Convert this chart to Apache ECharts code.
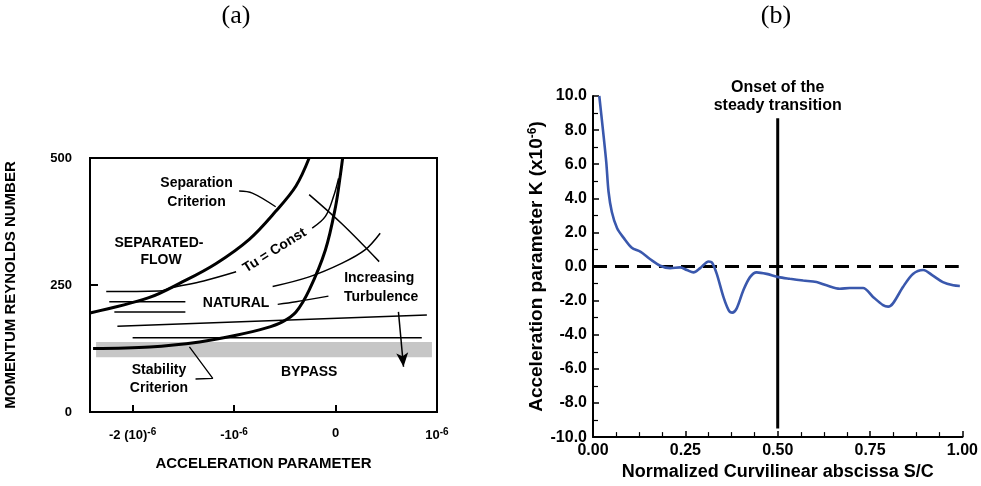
<!DOCTYPE html>
<html><head><meta charset="utf-8">
<script src="https://cdn.jsdelivr.net/npm/echarts@6/dist/echarts.min.js"></script>
<style>html,body{margin:0;background:#fff}#c{width:981px;height:486px}</style>
</head><body><div id="c"></div>
<script>
// ---------- Panel (a): transition regimes (x in units of 1e-6) ----------
const aSeparation = [[-2.42,195],[-1.84,225],[-1.51,256],[-1.18,292],[-0.85,340],[-0.59,395],[-0.39,445],[-0.26,500]];
const aStability = [[-2.39,125],[-1.83,128],[-1.34,138],[-0.98,151],[-0.69,165],[-0.52,178],[-0.39,197],[-0.26,240],[-0.10,319],[0.0,404],[0.05,470],[0.07,500]];
const aTuConstLow = [[-2.26,237],[-1.74,238],[-1.61,245],[-1.30,258],[-0.98,276]];
const aTuConstHigh = [[-0.23,362],[-0.10,385],[-0.02,424],[0.03,460]];
const aTuContour2 = [[-0.62,247],[-0.26,266],[0.065,293],[0.29,319],[0.44,352]];
const aTurbDir = [[-0.26,428],[0.065,370],[0.43,296]];
const aSepLeader = [[-0.95,435],[-0.82,431],[-0.59,404]];
const aNatLeader = [[-0.57,212],[-0.39,217],[-0.07,228]];
const aStabLeader = [[-1.44,128],[-1.21,66],[-1.38,65]];
const aHLines = [
  [[-2.23,217],[-1.48,217]],
  [[-2.18,197],[-1.48,197]],
  [[-2.15,169],[0.90,191]],
  [[-2.00,146],[0.85,146]]
];
const aBand = [[-2.36,108],[0.95,138]];
const aArrow = [[0.62,197],[0.67,89]];
const aTexts = [
  [-1.37,451,'Separation'],[-1.37,414,'Criterion'],
  [-1.74,333,'SEPARATED-'],[-1.72,299,'FLOW'],
  [-0.98,214,'NATURAL'],
  [0.43,264,'Increasing'],[0.45,226,'Turbulence'],
  [-1.74,82,'Stability'],[-1.74,47,'Criterion'],
  [-0.26,78,'BYPASS']
];
const aTuText = [-0.60,318,'Tu = Const'];
const aXTicks = [-2,-1,0];
const aXLabels = [-2,-1,0,1];

// ---------- Panel (b): acceleration parameter ----------
const bS = [0.017,0.027,0.036,0.042,0.051,0.065,0.083,0.105,0.128,0.155,0.182,0.209,0.236,0.254,0.272,0.29,0.313,0.322,0.335,0.353,0.367,0.377,0.389,0.407,0.425,0.443,0.47,0.502,0.533,0.569,0.605,0.632,0.668,0.695,0.731,0.758,0.785,0.799,0.812,0.839,0.866,0.894,0.92,0.947,0.975,0.993];
const bK = [10.0,8.0,6.1,4.4,3.2,2.26,1.68,1.1,0.87,0.43,0.05,-0.09,-0.05,-0.2,-0.34,-0.09,0.3,0.24,-0.43,-1.78,-2.55,-2.7,-2.45,-1.39,-0.62,-0.34,-0.43,-0.62,-0.72,-0.82,-0.91,-1.1,-1.3,-1.26,-1.26,-1.78,-2.26,-2.35,-2.16,-1.2,-0.43,-0.2,-0.53,-0.91,-1.1,-1.14];
const bZeroLine = [[0,0],[0.99,0]];
const bOnset = [[0.5,-9.5],[0.5,8.7]];
const bOnsetText = 'Onset of the\nsteady transition';

const F = '"Liberation Sans", Arial, sans-serif';
const chart = echarts.init(document.getElementById('c'));

function thin(data, w, extra) {
  return Object.assign({type:'line', xAxisIndex:0, yAxisIndex:0, data, symbol:'none',
    smooth:0.35, lineStyle:{color:'#000', width:w}, silent:true, z:3}, extra||{});
}

const series = [
  {type:'line', xAxisIndex:0, yAxisIndex:0, data:[], symbol:'none', silent:true, z:1,
   markArea:{silent:true, itemStyle:{color:'#c6c6c6'},
     data:[[{coord:aBand[0]},{coord:aBand[1]}]]}},
  thin(aSeparation, 3),
  thin(aStability, 3),
  thin(aTuConstLow, 1.5),
  thin(aTuConstHigh, 1.5),
  thin(aTuContour2, 1.5),
  thin(aTurbDir, 1.5),
  thin(aSepLeader, 1.3),
  thin(aNatLeader, 1.3),
  thin(aStabLeader, 1.3, {smooth:false}),
];
aHLines.forEach(l => series.push(thin(l, 1.5, {smooth:false})));
series.push({type:'line', xAxisIndex:0, yAxisIndex:0, data:[], symbol:'none', silent:true,
  markLine:{silent:true, symbol:['none','arrow'], symbolSize:[9,14],
    lineStyle:{color:'#000', width:1.5, type:'solid'}, label:{show:false},
    data:[[{coord:aArrow[0]},{coord:aArrow[1]}]]}});
const txtLabel = {show:true, position:'inside', color:'#000', opacity:1, fontFamily:F, fontWeight:'bold', fontSize:14};
series.push({type:'scatter', xAxisIndex:0, yAxisIndex:0, symbolSize:0, silent:true, z:5,
  itemStyle:{opacity:1},
  data: aTexts.map(t => ({value:[t[0],t[1]], label:{formatter:t[2]}})),
  label:txtLabel});
series.push({type:'scatter', xAxisIndex:0, yAxisIndex:0, symbolSize:0, silent:true, z:5,
  itemStyle:{opacity:1},
  data:[{value:[aTuText[0],aTuText[1]], label:{formatter:aTuText[2]}}],
  label:Object.assign({}, txtLabel, {rotate:32})});

// panel (b)
series.push({type:'line', xAxisIndex:1, yAxisIndex:1, data:bZeroLine, symbol:'none', silent:true,
  lineStyle:{color:'#000', width:3, type:[14,8]}, z:2});
series.push({type:'line', xAxisIndex:1, yAxisIndex:1, data:bOnset, symbol:'none', silent:true,
  lineStyle:{color:'#000', width:3}, z:2});
series.push({type:'line', xAxisIndex:1, yAxisIndex:1, data:bS.map((s,i)=>[s,bK[i]]), symbol:'none',
  smooth:0.3, silent:true, lineStyle:{color:'#3a58ad', width:2.6}, z:4});
series.push({type:'scatter', xAxisIndex:1, yAxisIndex:1, symbolSize:0, silent:true,
  itemStyle:{opacity:1},
  data:[{value:bOnset[1], label:{formatter:bOnsetText}}],
  label:{show:true, position:'top', distance:4, color:'#000', opacity:1, fontFamily:F, fontWeight:'bold', fontSize:16, lineHeight:18, align:'center'}});

const aLab = v => {
  const r = Math.round(v);
  if (r === -2) return '{n|-2 (10)}{s|-6}';
  if (r === -1) return '{n|-10}{s|-6}';
  if (r === 0) return '{n|0}';
  return '{n|10}{s|-6}';
};

chart.setOption({
  animation:false,
  backgroundColor:'#fff',
  graphic:[
    {type:'text', x:236, y:16, style:{text:'(a)', font:'26px "Liberation Serif", serif', fill:'#000', align:'center', verticalAlign:'middle', textAlign:'center', textVerticalAlign:'middle'}},
    {type:'text', x:776, y:16, style:{text:'(b)', font:'26px "Liberation Serif", serif', fill:'#000', align:'center', verticalAlign:'middle', textAlign:'center', textVerticalAlign:'middle'}}
  ],
  grid:[
    {left:90, top:158, width:347, height:254, show:true, borderColor:'#000', borderWidth:2, backgroundColor:'transparent'},
    {left:593, top:96, width:370, height:347}
  ],
  xAxis:[
    {type:'value', gridIndex:0, min:-2.42, max:1.0,
     axisLine:{show:true, onZero:false, lineStyle:{color:'#000', width:2}},
     axisTick:{show:true, inside:true, length:7, customValues:aXTicks, lineStyle:{color:'#000', width:2}},
     axisLabel:{customValues:aXLabels, margin:15, formatter:aLab, color:'#000',
       rich:{n:{fontFamily:F, fontWeight:'bold', fontSize:13, color:'#000'},
             s:{fontFamily:F, fontWeight:'bold', fontSize:10, color:'#000', verticalAlign:'top', padding:[0,0,7,0]}}},
     splitLine:{show:false},
     name:'ACCELERATION PARAMETER', nameLocation:'middle', nameGap:44,
     nameTextStyle:{fontFamily:F, fontWeight:'bold', fontSize:15, color:'#000'}},
    {type:'value', gridIndex:1, min:0, max:1, interval:0.25,
     axisLine:{show:true, onZero:false, lineStyle:{color:'#000', width:2}},
     axisTick:{show:true, inside:true, length:6, lineStyle:{color:'#000', width:1.5}},
     minorTick:{show:true, splitNumber:4, length:5, lineStyle:{color:'#000', width:1.2}},
     axisLabel:{margin:5, formatter:v=>v.toFixed(2), fontFamily:F, fontWeight:'bold', fontSize:16, color:'#000'},
     splitLine:{show:false},
     name:'Normalized Curvilinear abscissa S/C', nameLocation:'middle', nameGap:22,
     nameTextStyle:{fontFamily:F, fontWeight:'bold', fontSize:18, color:'#000'}}
  ],
  yAxis:[
    {type:'value', gridIndex:0, min:0, max:500, interval:250,
     axisLine:{show:true, onZero:false, lineStyle:{color:'#000', width:2}},
     axisTick:{show:true, inside:true, length:8, lineStyle:{color:'#000', width:2}},
     axisLabel:{margin:18, fontFamily:F, fontWeight:'bold', fontSize:13, color:'#000'},
     splitLine:{show:false},
     name:'MOMENTUM REYNOLDS NUMBER', nameLocation:'middle', nameGap:72, nameRotate:90,
     nameTextStyle:{fontFamily:F, fontWeight:'bold', fontSize:15, color:'#000'}},
    {type:'value', gridIndex:1, min:-10, max:10, interval:2,
     axisLine:{show:true, onZero:false, lineStyle:{color:'#000', width:2}},
     axisTick:{show:true, inside:true, length:6, lineStyle:{color:'#000', width:1.5}},
     minorTick:{show:true, splitNumber:2, length:5, lineStyle:{color:'#000', width:1.2}},
     axisLabel:{margin:6, formatter:v=>v.toFixed(1), fontFamily:F, fontWeight:'bold', fontSize:16, color:'#000'},
     splitLine:{show:false},
     name:'{a|Acceleration parameter K (x10}{s|-6}{a|)}', nameLocation:'middle', nameGap:42, nameRotate:90,
     nameTextStyle:{rich:{a:{fontFamily:F, fontWeight:'bold', fontSize:19, color:'#000'},
       s:{fontFamily:F, fontWeight:'bold', fontSize:12, color:'#000', verticalAlign:'top', padding:[0,0,9,0]}}}}
  ],
  series
});
</script></body></html>
